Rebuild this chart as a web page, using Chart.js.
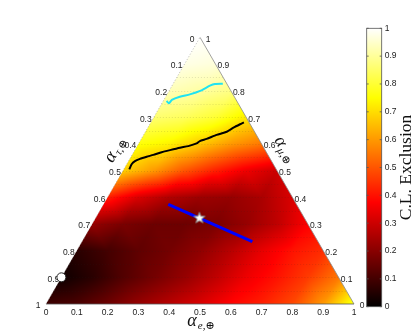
<!DOCTYPE html>
<html><head><meta charset="utf-8">
<script src="https://cdn.jsdelivr.net/npm/chart.js@4/dist/chart.umd.min.js"></script>
<style>
html,body{margin:0;padding:0;background:#fff;}
#wrap{position:relative;width:415px;height:331px;overflow:hidden;}
#main{position:absolute;left:0;top:0;}
#cb{position:absolute;left:355px;top:0;}
</style></head><body>
<div id="wrap"><canvas id="main" width="415" height="331"></canvas><canvas id="cb" width="60" height="331"></canvas></div>
<script>
// ---- tick labels ----
const ternTickValues = [0,0.1,0.2,0.3,0.4,0.5,0.6,0.7,0.8,0.9,1];
const ternTickLabels = ['0','0.1','0.2','0.3','0.4','0.5','0.6','0.7','0.8','0.9','1'];
const cbTickLabels   = ['0','0.1','0.2','0.3','0.4','0.5','0.6','0.7','0.8','0.9','1'];
const gridMuLevels = [0.05,0.1,0.15,0.2,0.25,0.3,0.35,0.4,0.45,0.5,0.55,0.6,0.65,0.7,0.75,0.8,0.85];

// ---- C.L. exclusion read on a 0.1 ternary grid: one row per alpha_mu, index = alpha_e*10 ----
const clMu00 = [0.09,0.11,0.16,0.22,0.27,0.32,0.38,0.42,0.48,0.60,0.78];
const clMu01 = [0.02,0.06,0.12,0.17,0.22,0.28,0.35,0.40,0.46,0.55];
const clMu02 = [0.06,0.10,0.14,0.17,0.21,0.27,0.34,0.40,0.44];
const clMu03 = [0.22,0.18,0.16,0.16,0.18,0.22,0.28,0.37];
const clMu04 = [0.42,0.32,0.26,0.23,0.22,0.25,0.32];
const clMu05 = [0.68,0.60,0.50,0.42,0.35,0.30];
const clMu06 = [0.76,0.73,0.67,0.60,0.55];
const clMu07 = [0.86,0.84,0.80,0.72];
const clMu08 = [0.93,0.91,0.88];
const clMu09 = [0.975,0.965];
const clMu10 = [1.0];

// ---- contour lines (alpha_e, alpha_mu) ----
const cyanE  = [0.011,0.023,0.026,0.046,0.074,0.101,0.123,0.136,0.161];
const cyanMu = [0.761,0.7525,0.765,0.777,0.786,0.799,0.8185,0.825,0.826];
const blackE  = [0.018,0.016,0.021,0.033,0.051,0.069,0.091,0.114,0.142,0.166,0.188,0.194,0.212,0.237,0.264,0.278,0.293,0.302];
const blackMu = [0.505,0.524,0.536,0.544,0.552,0.559,0.569,0.577,0.586,0.592,0.602,0.611,0.619,0.634,0.646,0.661,0.674,0.681];
const blueE  = [0.210,0.553];
const blueMu = [0.374,0.234];
const starE  = [0.336];
const starMu = [0.324];
const circE  = [0.0];
const circMu = [0.1];

const H3 = Math.sqrt(3)/2;
const rows = [clMu00,clMu01,clMu02,clMu03,clMu04,clMu05,clMu06,clMu07,clMu08,clMu09,clMu10];

function hot(v){
  v = Math.max(0, Math.min(1, v));
  const r = Math.min(1, v/0.375);
  const g = Math.max(0, Math.min(1, (v-0.375)/0.375));
  const b = Math.max(0, (v-0.75)/0.25);
  return [r*255, g*255, b*255];
}
function heatAt(e, m){
  const N = 10;
  if (e < 0) e = 0; if (m < 0) m = 0;
  if (e + m > 1){ const s = e + m; e /= s; m /= s; }
  const fe = e*N, fm = m*N;
  let j = Math.floor(fm);
  if (j >= N) return rows[N][0];
  let i = Math.floor(fe);
  if (i > N-j-1) i = N-j-1;
  if (i < 0) i = 0;
  const a = fe - i, b = fm - j;
  if (a + b <= 1 || i+1 > N-j-1){
    return rows[j][i]*(1-a-b) + rows[j][i+1]*a + rows[j+1][i]*b;
  }
  return rows[j+1][i+1]*(a+b-1) + rows[j][i+1]*(1-b) + rows[j+1][i]*(1-a);
}
const toXY = (E, M) => E.map((e,k) => ({x: e + M[k]/2, y: M[k]*H3}));

function makeStar(){
  const c = document.createElement('canvas'); c.width = 14; c.height = 14;
  const g = c.getContext('2d');
  g.beginPath();
  for (let k=0;k<10;k++){
    const r = (k%2) ? 2.4 : 5.8;
    const a = -Math.PI/2 + k*Math.PI/5;
    g.lineTo(7 + r*Math.cos(a), 7.5 + r*Math.sin(a));
  }
  g.closePath();
  g.fillStyle = '#fff'; g.fill();
  g.strokeStyle = '#8a8a8a'; g.lineWidth = 1; g.stroke();
  return c;
}

const LABEL_FONT = '8.5px "Liberation Sans", Arial, Helvetica, sans-serif';

function drawAlpha(ctx, x, y, ang, sub){
  ctx.save();
  ctx.translate(x, y); ctx.rotate(ang);
  const f1 = 'italic 18px "Liberation Serif", "DejaVu Serif", serif';
  const f2 = 'italic 11px "Liberation Serif", "DejaVu Serif", serif';
  ctx.font = f1; const w1 = ctx.measureText('α').width;
  ctx.font = f2; const w2 = ctx.measureText(sub).width;
  const x0 = -(w1 + w2 + 1)/2;
  ctx.fillStyle = '#111'; ctx.textAlign = 'left'; ctx.textBaseline = 'alphabetic';
  ctx.font = f1; ctx.fillText('α', x0, 4);
  ctx.font = f2; ctx.fillText(sub, x0 + w1 + 1, 7);
  ctx.restore();
}

const ternPlugin = {
  id: 'tern',
  beforeDatasetsDraw(chart){
    const ctx = chart.ctx, xs = chart.scales.x, ys = chart.scales.y, A = chart.chartArea;
    const P = (e, m) => [xs.getPixelForValue(e + m/2), ys.getPixelForValue(m*H3)];
    const V0 = P(0,0), V1 = P(1,0), V2 = P(0,1);
    // heat map
    const L = Math.floor(A.left), T = Math.floor(A.top);
    const W = Math.ceil(A.right) - L + 1, Hh = Math.ceil(A.bottom) - T + 1;
    const off = document.createElement('canvas'); off.width = W; off.height = Hh;
    const octx = off.getContext('2d');
    const img = octx.createImageData(W, Hh);
    for (let py=0; py<Hh; py++){
      const Y = ys.getValueForPixel(T + py + 0.5);
      const m = Y / H3;
      for (let px=0; px<W; px++){
        const X = xs.getValueForPixel(L + px + 0.5);
        const e = X - m/2;
        if (e < -0.02 || m < -0.02 || e + m > 1.02) continue;
        const c = hot(heatAt(e, m));
        const o = (py*W + px)*4;
        img.data[o] = c[0]; img.data[o+1] = c[1]; img.data[o+2] = c[2]; img.data[o+3] = 255;
      }
    }
    octx.putImageData(img, 0, 0);
    ctx.save();
    ctx.beginPath(); ctx.moveTo(V0[0],V0[1]); ctx.lineTo(V1[0],V1[1]); ctx.lineTo(V2[0],V2[1]); ctx.closePath();
    ctx.clip();
    ctx.drawImage(off, L, T);
    // dotted horizontal grid
    ctx.setLineDash([1,2]); ctx.lineWidth = 0.6; ctx.strokeStyle = 'rgba(40,40,40,0.22)';
    gridMuLevels.forEach(m => {
      const a = P(0, m), b = P(1-m, m);
      ctx.beginPath(); ctx.moveTo(a[0], Math.round(a[1])+0.5); ctx.lineTo(b[0], Math.round(b[1])+0.5); ctx.stroke();
    });
    ctx.restore();
    // edges
    ctx.save();
    ctx.lineWidth = 0.8;
    ctx.strokeStyle = '#8a8a8a';
    ctx.beginPath(); ctx.moveTo(V2[0],V2[1]); ctx.lineTo(V1[0],V1[1]); ctx.stroke();
    ctx.strokeStyle = '#555';
    ctx.beginPath(); ctx.moveTo(V0[0],V0[1]); ctx.lineTo(V1[0],V1[1]); ctx.stroke();
    ctx.setLineDash([1,2]); ctx.strokeStyle = '#aaa';
    ctx.beginPath(); ctx.moveTo(V0[0],V0[1]); ctx.lineTo(V2[0],V2[1]); ctx.stroke();
    ctx.restore();
    // tick labels
    ctx.save();
    ctx.font = LABEL_FONT; ctx.fillStyle = '#222'; ctx.textAlign = 'center'; ctx.textBaseline = 'middle';
    ternTickValues.forEach((t, k) => {
      const lab = ternTickLabels[k];
      const l = P(0, 1-t); ctx.fillText(lab, l[0]-8, l[1]+2);
      const r = P(1-t, t); ctx.fillText(lab, r[0]+8, r[1]+2);
      const b = P(t, 0); ctx.fillText(lab, b[0], b[1]+9);
    });
    ctx.restore();
    // axis titles
    const lt = P(0, 0.546), rt = P(0.454, 0.546), bt = P(0.5, 0);
    drawAlpha(ctx, lt[0] - 16.8*0.866, lt[1] - 16.8*0.5, -Math.PI/3, 'τ,⊕');
    drawAlpha(ctx, rt[0] + 16.8*0.866, rt[1] - 16.8*0.5, Math.PI/3, 'μ,⊕');
    drawAlpha(ctx, bt[0] + 1, bt[1] + 18, 0, 'e,⊕');
  }
};

new Chart(document.getElementById('main'), {
  type: 'scatter',
  data: {
    datasets: [
      {label:'best fit', data: toXY(starE, starMu), pointStyle: makeStar(), pointRadius: 6, showLine:false},
      {label:'start', data: toXY(circE, circMu), pointStyle:'circle', pointRadius: 4.5,
       backgroundColor:'#ffffff', borderColor:'#222', borderWidth: 1, showLine:false},
      {label:'track', data: toXY(blueE, blueMu), showLine:true, borderColor:'#0000ff', borderWidth: 3, pointRadius: 0},
      {label:'68% C.L.', data: toXY(blackE, blackMu), showLine:true, borderColor:'#000000', borderWidth: 2, pointRadius: 0, tension: 0.2},
      {label:'90% C.L.', data: toXY(cyanE, cyanMu), showLine:true, borderColor:'#1fe3f2', borderWidth: 2, pointRadius: 0, tension: 0.2}
    ]
  },
  options: {
    responsive:false, animation:false, events:[],
    layout: {padding: {left:46, right:61, top:37.3, bottom:27}},
    plugins: {legend:{display:false}, tooltip:{enabled:false}},
    scales: {
      x: {type:'linear', min:0, max:1, display:false},
      y: {type:'linear', min:0, max:H3, display:false}
    }
  },
  plugins: [ternPlugin]
});

const cbPlugin = {
  id: 'cbar',
  beforeDatasetsDraw(chart){
    const ctx = chart.ctx, ys = chart.scales.y, A = chart.chartArea;
    const y0 = ys.getPixelForValue(0), y1 = ys.getPixelForValue(1);
    const g = ctx.createLinearGradient(0, y0, 0, y1);
    [0, 0.375, 0.75, 1].forEach(s => { const c = hot(s); g.addColorStop(s, `rgb(${c[0]|0},${c[1]|0},${c[2]|0})`); });
    ctx.save();
    ctx.fillStyle = g;
    ctx.fillRect(A.left, y1, A.right - A.left, y0 - y1);
    ctx.strokeStyle = '#555'; ctx.lineWidth = 0.8;
    ctx.strokeRect(A.left, y1, A.right - A.left, y0 - y1);
    ctx.beginPath();
    ternTickValues.forEach(t => {
      const y = ys.getPixelForValue(t);
      ctx.moveTo(A.left, y); ctx.lineTo(A.left + 2, y);
      ctx.moveTo(A.right, y); ctx.lineTo(A.right - 2, y);
    });
    ctx.stroke();
    ctx.restore();
  },
  afterDraw(chart){
    const ctx = chart.ctx, ys = chart.scales.y;
    ctx.save();
    ctx.translate(51.5, (ys.getPixelForValue(0) + ys.getPixelForValue(1))/2);
    ctx.rotate(-Math.PI/2);
    ctx.font = '17.5px "Liberation Serif", "Times New Roman", serif';
    ctx.fillStyle = '#111'; ctx.textAlign = 'center'; ctx.textBaseline = 'middle';
    ctx.fillText('C.L. Exclusion', 0, 0);
    ctx.restore();
  }
};

new Chart(document.getElementById('cb'), {
  type: 'scatter',
  data: {datasets: []},
  options: {
    responsive:false, animation:false, events:[],
    layout: {padding: {left:11.7, right:0, top:28.3, bottom:24.3}},
    plugins: {legend:{display:false}, tooltip:{enabled:false}},
    scales: {
      x: {type:'linear', min:0, max:1, display:false},
      y: {type:'linear', position:'right', min:0, max:1,
          afterFit: s => { s.width = 33.3; },
          grid: {display:false, drawTicks:false}, border: {display:false},
          ticks: {stepSize:0.1, padding:3, color:'#222', font:{size:8.5, family:'"Liberation Sans", Arial, sans-serif'},
                  callback: (v, i) => cbTickLabels[i]}}
    }
  },
  plugins: [cbPlugin]
});
</script>
</body></html>
